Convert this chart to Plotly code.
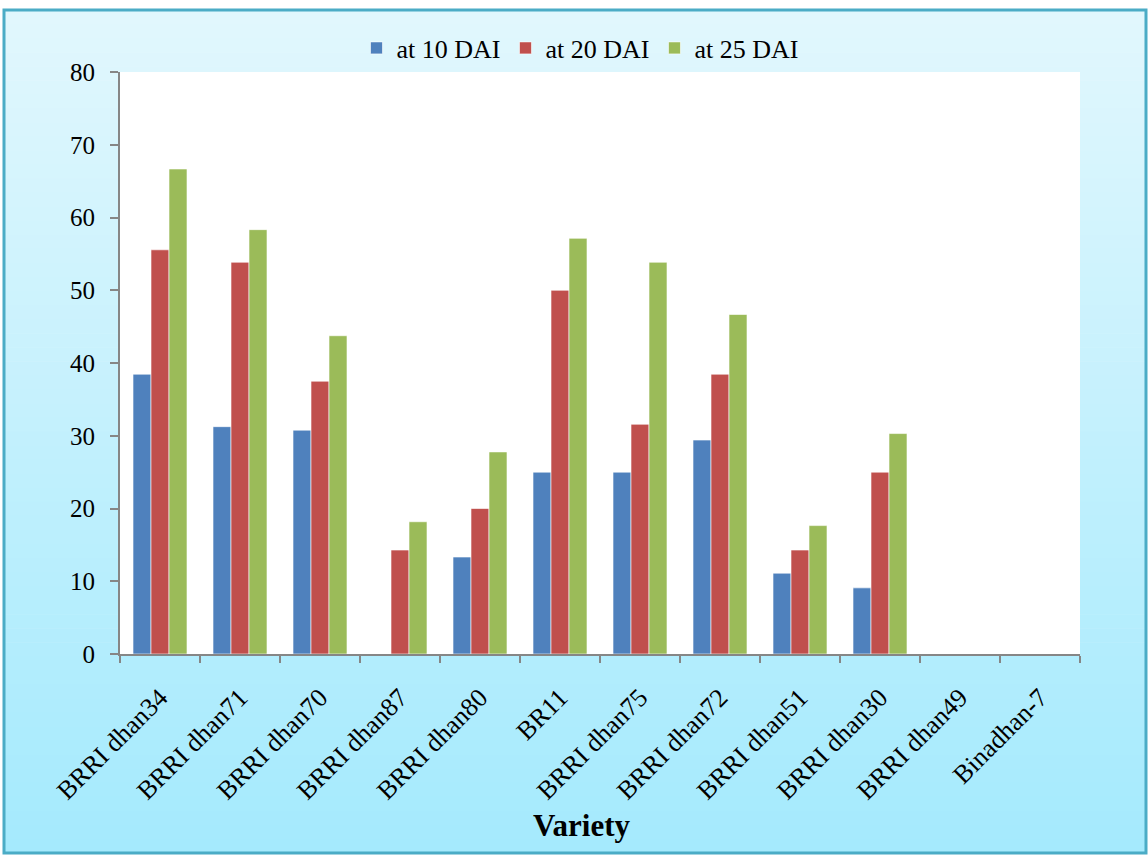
import plotly.graph_objects as go

categories = ["BRRI dhan34", "BRRI dhan71", "BRRI dhan70", "BRRI dhan87", "BRRI dhan80",
              "BR11", "BRRI dhan75", "BRRI dhan72", "BRRI dhan51", "BRRI dhan30",
              "BRRI dhan49", "Binadhan-7"]
dai10 = [38.46, 31.25, 30.77, 0, 13.33, 25.0, 25.0, 29.41, 11.11, 9.09, 0, 0]
dai20 = [55.56, 53.85, 37.5, 14.29, 20.0, 50.0, 31.58, 38.46, 14.29, 25.0, 0, 0]
dai25 = [66.67, 58.33, 43.75, 18.18, 27.78, 57.14, 53.85, 46.67, 17.65, 30.30, 0, 0]
series_names = ["at 10 DAI", "at 20 DAI", "at 25 DAI"]
colors = ["#4f81bd", "#c0504d", "#9bbb59"]
y_ticks = [0, 10, 20, 30, 40, 50, 60, 70, 80]

FONT = "Times New Roman, Liberation Serif, serif"
W, H = 1148, 856
L, R, T, B = 120, 68, 72, 202
PW, PH = W - L - R, H - T - B


def px_x(p):
    return (p - L) / PW


def px_y(p):
    return (H - B - p) / PH


fig = go.Figure()
for name, vals, c in zip(series_names, [dai10, dai20, dai25], colors):
    fig.add_trace(go.Bar(name=name, x=categories, y=vals, marker_color=c,
                         marker_line_color="rgba(255,255,255,0.6)", marker_line_width=1))

shapes = []
# gradient background inside border
top_px, bot_px, left_px, right_px = 10, 853, 4, 1146
n = 60
c0 = (225, 247, 253)
c1 = (165, 234, 253)
for i in range(n):
    f = i / (n - 1)
    col = tuple(round(a + (b - a) * f) for a, b in zip(c0, c1))
    y0p = top_px + (bot_px - top_px) * i / n
    y1p = top_px + (bot_px - top_px) * (i + 1) / n + 0.6
    shapes.append(dict(type="rect", xref="paper", yref="paper", layer="below",
                       x0=px_x(left_px), x1=px_x(right_px), y0=px_y(y1p), y1=px_y(y0p),
                       line_width=0, fillcolor="rgb(%d,%d,%d)" % col))
# white plot area
shapes.append(dict(type="rect", xref="paper", yref="paper", layer="below",
                   x0=0, x1=1, y0=0, y1=1, line_width=0, fillcolor="white"))
# border
shapes.append(dict(type="rect", xref="paper", yref="paper", layer="above",
                   x0=px_x(left_px), x1=px_x(right_px), y0=px_y(bot_px), y1=px_y(top_px),
                   line=dict(color="#4bacc6", width=3), fillcolor="rgba(0,0,0,0)"))

fig.update_layout(
    width=W, height=H,
    margin=dict(l=L, r=R, t=T, b=B, pad=0),
    paper_bgcolor="white",
    plot_bgcolor="rgba(0,0,0,0)",
    barmode="group",
    bargap=0.325,
    bargroupgap=0,
    font=dict(family=FONT, size=23, color="black"),
    shapes=shapes,
    showlegend=True,
    legend=dict(orientation="h", x=px_x(580), xanchor="center", y=px_y(48), yanchor="middle",
                bgcolor="rgba(0,0,0,0)", font=dict(size=26, family=FONT),
                itemwidth=30, tracegroupgap=0),
    annotations=[dict(text="<b>Variety</b>", xref="paper", yref="paper",
                      x=px_x(581), y=px_y(825), xanchor="center", yanchor="middle",
                      showarrow=False, font=dict(size=31, family=FONT, color="black"))],
)
fig.update_xaxes(
    type="category", showline=True, linecolor="#868686", linewidth=2,
    ticks="outside", tickson="boundaries", ticklen=7, tickcolor="#868686", tickwidth=2,
    tickangle=-45, tickfont=dict(size=26, family=FONT), showgrid=False,
    ticklabelstandoff=16,
)
fig.update_yaxes(
    range=[0, 80], tickvals=y_ticks, showline=True, linecolor="#868686", linewidth=2,
    ticks="outside", ticklen=8, tickcolor="#868686", tickwidth=2,
    tickfont=dict(size=25, family=FONT), showgrid=False, zeroline=False,
    ticklabelstandoff=10,
)

fig.write_html("out.html", post_script="document.body.style.margin='0';",
               config={"displayModeBar": False})
